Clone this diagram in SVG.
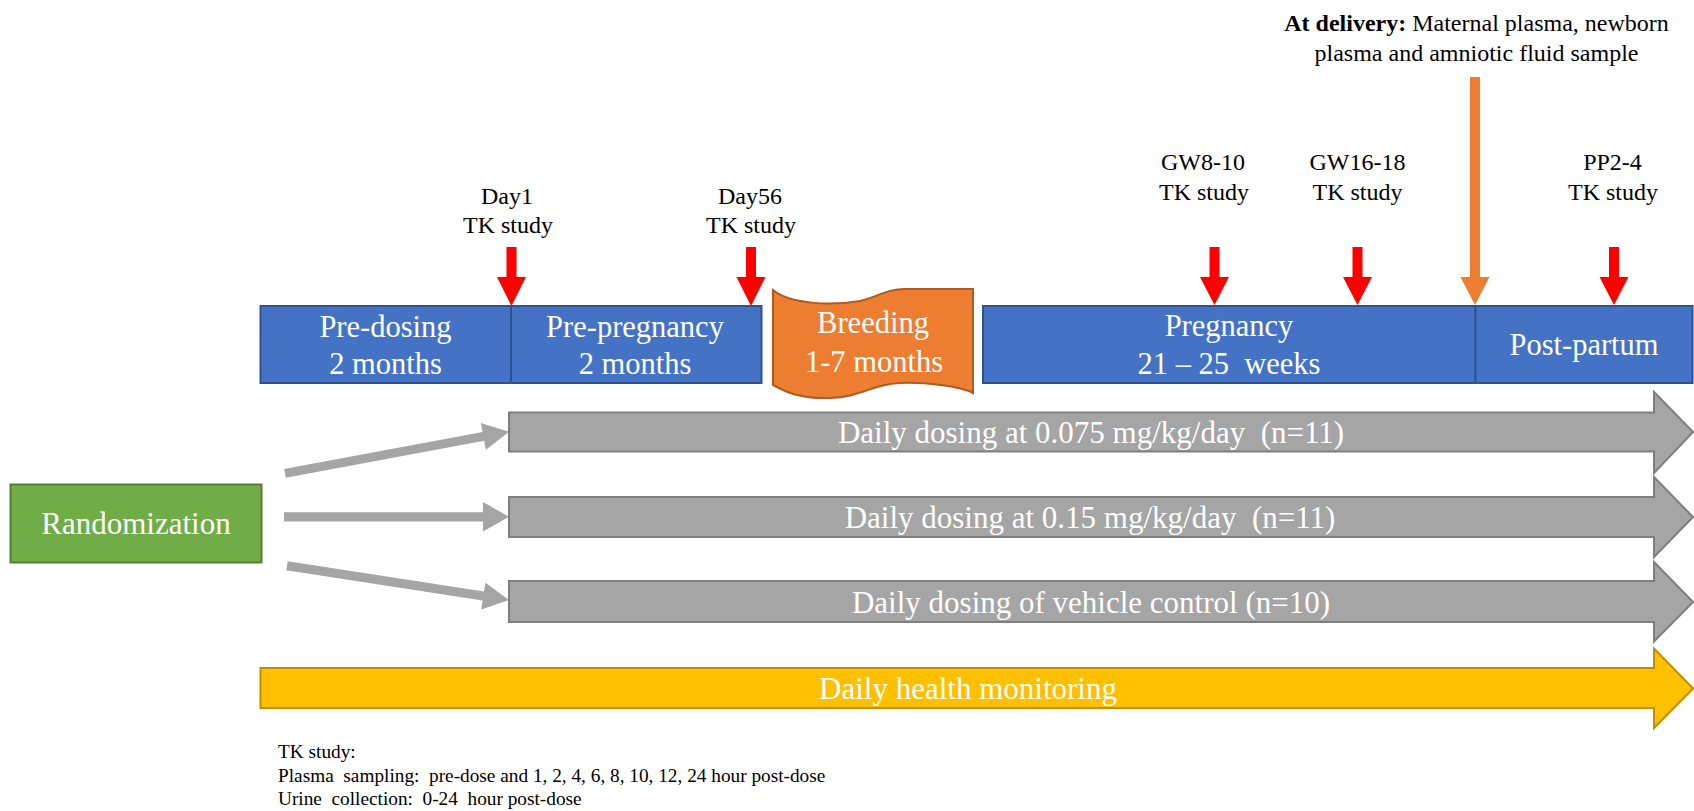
<svg xmlns="http://www.w3.org/2000/svg" width="1694" height="811" viewBox="0 0 1694 811">
<style>
text{font-family:"Liberation Serif","Times New Roman",serif;}
.lbl{font-size:24px;fill:#000;text-anchor:middle;}
.ph{font-size:30.5px;fill:#fff;text-anchor:middle;}
.bar{font-size:31px;fill:#fff;text-anchor:middle;}
.blue{fill:#4472C4;stroke:#2F528F;stroke-width:2;}
.gray{fill:#A5A5A5;stroke:#7F7F7F;stroke-width:2;}
.yel{fill:#FFC000;stroke:#BF9000;stroke-width:2;}
.red{fill:#FF0000;}
.conn{fill:#A5A5A5;}
.note{font-size:19.3px;fill:#000;}
</style>
<rect width="1694" height="811" fill="#fff"/>

<g id="pre-dosing">
<rect class="blue" x="260.5" y="306" width="250.5" height="77"/>
<text class="ph" x="385.5" y="337">Pre-dosing</text>
<text class="ph" x="385.5" y="374">2 months</text>
</g>
<g id="pre-pregnancy">
<rect class="blue" x="511" y="306" width="250.5" height="77"/>
<text class="ph" x="635" y="337">Pre-pregnancy</text>
<text class="ph" x="635" y="374">2 months</text>
</g>
<g id="breeding">
<path d="M773,290 C790,304 830,306 860,301 C878,297 886,289 905,289 L973,289 L973,393 C960,386 925,382 900,383 C872,384 862,397 830,398 C800,399 786,392 773,385 Z" fill="#ED7D31" stroke="#AE5A21" stroke-width="2"/>
<text class="ph" x="873" y="333">Breeding</text>
<text class="ph" x="874" y="372">1-7 months</text>
</g>
<g id="pregnancy">
<rect class="blue" x="983" y="306" width="492.5" height="77"/>
<text class="ph" x="1229" y="336">Pregnancy</text>
<text class="ph" x="1229" y="374" xml:space="preserve">21 – 25  weeks</text>
</g>
<g id="post-partum">
<rect class="blue" x="1475.5" y="306" width="217" height="77"/>
<text class="ph" x="1584" y="355">Post-partum</text>
</g>

<g id="tk-day1">
<text class="lbl" x="507" y="204">Day1</text>
<text class="lbl" x="508" y="233">TK study</text>
<polygon class="red" points="506.5,247 516.5,247 516.5,277 526,277 511.5,306 497,277 506.5,277"/>
</g>
<g id="tk-day56">
<text class="lbl" x="750" y="204">Day56</text>
<text class="lbl" x="751" y="233">TK study</text>
<polygon class="red" points="746,247 756,247 756,277 765.5,277 751,306 736.5,277 746,277"/>
</g>
<g id="tk-gw8">
<text class="lbl" x="1203" y="170">GW8-10</text>
<text class="lbl" x="1204" y="200">TK study</text>
<polygon class="red" points="1209.5,247 1219.5,247 1219.5,277 1229,277 1214.5,305 1200,277 1209.5,277"/>
</g>
<g id="tk-gw16">
<text class="lbl" x="1357.5" y="170">GW16-18</text>
<text class="lbl" x="1357.5" y="200">TK study</text>
<polygon class="red" points="1352.5,247 1362.5,247 1362.5,277 1372,277 1357.5,305 1343,277 1352.5,277"/>
</g>
<g id="delivery">
<text class="lbl" x="1476.5" y="31"><tspan font-weight="bold">At delivery:</tspan> Maternal plasma, newborn</text>
<text class="lbl" x="1476.5" y="61">plasma and amniotic fluid sample</text>
<polygon fill="#ED7D31" points="1470,77 1480,77 1480,277 1489.5,277 1475,305 1460.5,277 1470,277"/>
</g>
<g id="tk-pp">
<text class="lbl" x="1612.5" y="170">PP2-4</text>
<text class="lbl" x="1613" y="200">TK study</text>
<polygon class="red" points="1609,247 1619,247 1619,277 1628.5,277 1614,305 1599.5,277 1609,277"/>
</g>

<g id="randomization">
<rect x="10.5" y="484.5" width="251" height="78" fill="#70AD47" stroke="#507E32" stroke-width="2"/>
<text class="bar" x="136" y="534">Randomization</text>
</g>

<g id="connectors">
<polygon class="conn" points="284.2,468.9 482.6,432 480.9,423.1 509,431.7 485.9,449.7 484.2,440.8 285.8,477.7"/>
<polygon class="conn" points="284,512.2 483,512.2 483,502 509,516.8 483,531.6 483,521.4 284,521.4"/>
<polygon class="conn" points="287.7,561.3 484,591.6 485.4,582.7 509,600 481.2,609.4 482.6,600.5 286.3,570.2"/>
</g>

<g id="dose-0075">
<polygon class="gray" points="509,412.5 1654,412.5 1654,392 1693,432 1654,473 1654,451.5 509,451.5"/>
<text class="bar" x="1091" y="443" xml:space="preserve">Daily dosing at 0.075 mg/kg/day  (n=11)</text>
</g>
<g id="dose-015">
<polygon class="gray" points="509,497 1654,497 1654,477 1693,517 1654,557 1654,537 509,537"/>
<text class="bar" x="1090" y="528" xml:space="preserve">Daily dosing at 0.15 mg/kg/day  (n=11)</text>
</g>
<g id="dose-vehicle">
<polygon class="gray" points="509,581 1654,581 1654,562 1693,602 1654,641.5 1654,622 509,622"/>
<text class="bar" x="1091" y="613">Daily dosing of vehicle control (n=10)</text>
</g>
<g id="health">
<polygon class="yel" points="260.5,668 1654,668 1654,648.5 1693,688.5 1654,728 1654,708 260.5,708"/>
<text class="bar" x="968" y="699">Daily health monitoring</text>
</g>

<g id="notes">
<text class="note" x="278" y="758">TK study:</text>
<text class="note" x="278" y="782" xml:space="preserve">Plasma  sampling:  pre-dose and 1, 2, 4, 6, 8, 10, 12, 24 hour post-dose</text>
<text class="note" x="278" y="805" xml:space="preserve">Urine  collection:  0-24  hour post-dose</text>
</g>
</svg>
